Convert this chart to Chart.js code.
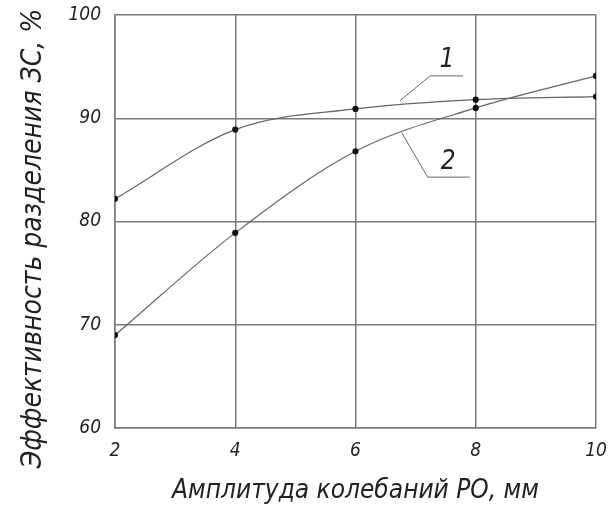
<!DOCTYPE html>
<html>
<head>
<meta charset="utf-8">
<script src="https://cdn.jsdelivr.net/npm/chart.js@4.4.1/dist/chart.umd.min.js"></script>
<style>
    html, body { margin: 0; padding: 0; background: #fff; }
    #wrap { width: 614px; height: 507px; }
</style>
</head>
<body>
<div id="wrap"><canvas id="effChart"></canvas></div>
<script>
// --- datos ---
const amplitudes = [2, 4, 6, 8, 10];
const curve1 = [82.2, 88.9, 90.9, 91.8, 92.1];
const curve2 = [69.0, 78.9, 86.8, 91.0, 94.1];
const xTicks = [2, 4, 6, 8, 10];
const yTicks = [60, 70, 80, 90, 100];

// выноски "1" и "2": точка на кривой, излом, конец полки, подпись (в единицах осей)
const leader1 = [[6.74, 91.7], [7.24, 94.1], [7.79, 94.1]];
const leader2 = [[6.77, 88.6], [7.20, 84.3], [7.90, 84.3]];
const label1 = { text: '1', x: 7.52, y: 95.6 };
const label2 = { text: '2', x: 7.54, y: 85.7 };

const yTitle = 'Эффективность разделения ЗС, %';
const xTitle = 'Амплитуда колебаний РО, мм';

const FONT = "'Liberation Sans Narrow', 'DejaVu Sans Condensed', sans-serif";
const INK = '#222';
const GRID = '#7a7a7a';

const leadersPlugin = {
    id: 'leaders',
    afterDatasetsDraw(chart) {
        const { ctx, chartArea, scales: { x, y } } = chart;
        ctx.save();
        ctx.strokeStyle = '#666';
        ctx.lineWidth = 1;
        [leader1, leader2].forEach(path => {
            ctx.beginPath();
            path.forEach(([vx, vy], i) => {
                const px = x.getPixelForValue(vx), py = y.getPixelForValue(vy);
                i === 0 ? ctx.moveTo(px, py) : ctx.lineTo(px, py);
            });
            ctx.stroke();
        });
        ctx.fillStyle = INK;
        ctx.font = 'italic 26px ' + FONT;
        ctx.textAlign = 'center';
        ctx.textBaseline = 'middle';
        [label1, label2].forEach(l => {
            ctx.fillText(l.text, x.getPixelForValue(l.x), y.getPixelForValue(l.y));
        });

        // подпись оси Y (чуть ниже центра поля, как в оригинале)
        ctx.font = 'italic 28px ' + FONT;
        ctx.translate(34, (chartArea.top + chartArea.bottom) / 2 + 17);
        ctx.rotate(-Math.PI / 2);
        ctx.fillText(yTitle, 0, 0);
        ctx.restore();
    }
};

const ctx = document.getElementById('effChart');
new Chart(ctx, {
    type: 'line',
    data: {
        labels: amplitudes,
        datasets: [
            {
                label: '1',
                data: amplitudes.map((a, i) => ({ x: a, y: curve1[i] })),
                borderColor: '#666',
                borderWidth: 1.2,
                pointRadius: 2.5,
                pointBackgroundColor: '#111',
                pointBorderColor: '#111',
                cubicInterpolationMode: 'monotone',
                fill: false
            },
            {
                label: '2',
                data: amplitudes.map((a, i) => ({ x: a, y: curve2[i] })),
                borderColor: '#666',
                borderWidth: 1.2,
                pointRadius: 2.5,
                pointBackgroundColor: '#111',
                pointBorderColor: '#111',
                cubicInterpolationMode: 'monotone',
                fill: false
            }
        ]
    },
    options: {
        responsive: true,
        maintainAspectRatio: false,
        animation: false,
        layout: { padding: { left: 0, right: 18, top: 15, bottom: 0 } },
        plugins: {
            legend: { display: false },
            tooltip: { enabled: false }
        },
        scales: {
            x: {
                type: 'linear',
                min: 2,
                max: 10,
                afterBuildTicks: axis => { axis.ticks = xTicks.map(v => ({ value: v })); },
                afterFit: axis => {
                    axis.height = 79;
                    axis.paddingLeft = 0;
                    axis.paddingRight = 0;
                },
                grid: { color: GRID, lineWidth: 1.5, drawTicks: false },
                border: { color: GRID, width: 1.5 },
                ticks: { color: INK, padding: 12, font: { family: FONT, size: 19, style: 'italic' } },
                title: {
                    display: true,
                    text: xTitle,
                    color: INK,
                    padding: { top: 8, bottom: 0 },
                    font: { family: FONT, size: 26, style: 'italic' }
                }
            },
            y: {
                min: 60,
                max: 100,
                afterBuildTicks: axis => { axis.ticks = yTicks.map(v => ({ value: v })); },
                afterFit: axis => {
                    axis.width = 115;
                    axis.paddingTop = 0;
                    axis.paddingBottom = 0;
                },
                grid: { color: GRID, lineWidth: 1.5, drawTicks: false },
                border: { color: GRID, width: 1.5 },
                ticks: { color: INK, padding: 14, font: { family: FONT, size: 19, style: 'italic' } },
                title: { display: false }
            }
        }
    },
    plugins: [leadersPlugin]
});
</script>
</body>
</html>
